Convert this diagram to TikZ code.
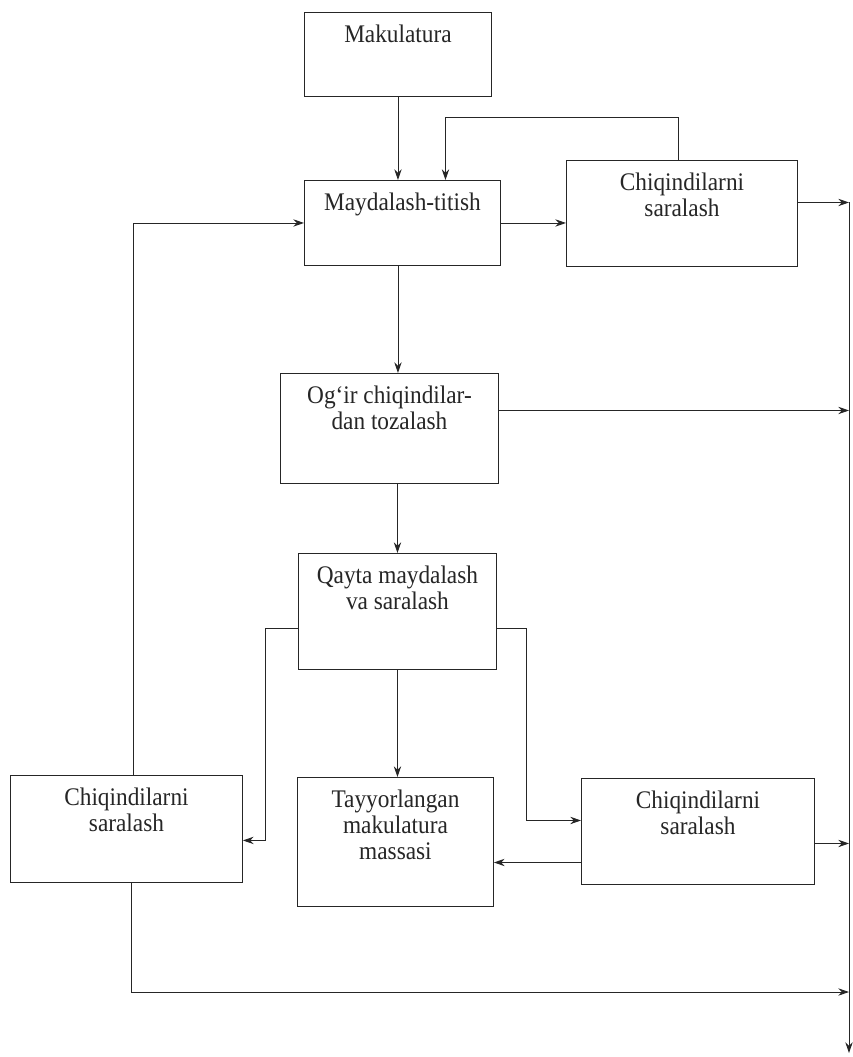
\documentclass[tikz,border=0pt]{standalone}
\usepackage{fontspec}
\setmainfont[FakeStretch=0.92]{Liberation Serif}
\usetikzlibrary{arrows.meta}
\newcommand{\btext}[3]{\parbox[t][#2][t]{#1}{\centering\vspace*{9pt}#3\par}}
\begin{document}
\begin{tikzpicture}[x=0.75pt,y=-0.75pt,
  box/.style={draw=black!85, line width=0.7pt, rectangle, inner sep=0pt, anchor=north west,
    font=\fontsize{19}{19.5}\selectfont, text=black!85},
  arr/.style={draw=black!85, line width=0.7pt, -{Stealth[length=8pt,width=5.5pt]}},
  ln/.style={draw=black!85, line width=0.7pt}]
\fill[white] (0,0) rectangle (853,1057);
\useasboundingbox (0,0) rectangle (853,1057);

\node[box] (mak) at (304,12) {\btext{140.25pt}{63pt}{Makulatura}};
\node[box] (may) at (304,180) {\btext{147pt}{63.75pt}{Maydalash-titish}};
\node[box] (chq1) at (566,160) {\btext{173.25pt}{79.5pt}{Chiqindilarni\\saralash}};
\node[box] (ogr) at (280,373) {\btext{163.5pt}{82.5pt}{Og‘ir chiqindilar-\\dan tozalash}};
\node[box] (qay) at (298,553) {\btext{148.5pt}{87pt}{Qayta maydalash\\va saralash}};
\node[box] (chqL) at (10,775) {\btext{174pt}{80.25pt}{Chiqindilarni\\saralash}};
\node[box] (tay) at (297,777) {\btext{147pt}{96.75pt}{Tayyorlangan\\makulatura\\massasi}};
\node[box] (chqR) at (581,778) {\btext{174.75pt}{79.5pt}{Chiqindilarni\\saralash}};

\coordinate (rtop) at (849,202);
\coordinate (rbot) at (849,1053);
\coordinate (rlow) at (849,992);

% right collector line
\draw[arr] (rtop) -- (rbot);

% top
\draw[arr] (mak.south) -- (mak.south |- may.north);
\draw[arr] ([xshift=-3pt]chq1.north) -- ++(0,-43) -| ([xshift=32.25pt]may.north);
\draw[arr] (may.east) -- (may.east -| chq1.west);
\draw[arr] ([yshift=8.25pt]chq1.east) -- ([yshift=8.25pt]chq1.east -| rtop);
\draw[arr] ([xshift=5pt]chqL.north) |- (may.west);

% middle
\draw[arr] (may.south -| mak.south) -- (mak.south |- ogr.north);
\draw[arr] ([yshift=13.5pt]ogr.east) -- ([yshift=13.5pt]ogr.east -| rtop);
\draw[arr] (qay.north |- ogr.south) -- (qay.north);

% lower
\draw[arr] ([yshift=-12.75pt]qay.west) -- ++(-33,0) |- ([yshift=-8.6pt]chqL.east);
\draw[arr] ([yshift=-12.75pt]qay.east) -- ++(30,0) |- ([yshift=8.25pt]chqR.west);
\draw[arr] (qay.south) -- (qay.south |- tay.north);
\draw[arr] ([yshift=-23.25pt]chqR.west) -- ([yshift=-23.25pt]chqR.west -| tay.east);
\draw[arr] ([yshift=-9pt]chqR.east) -- ([yshift=-9pt]chqR.east -| rtop);
\draw[arr] ([xshift=4pt]chqL.south) |- (rlow);
\end{tikzpicture}
\end{document}
